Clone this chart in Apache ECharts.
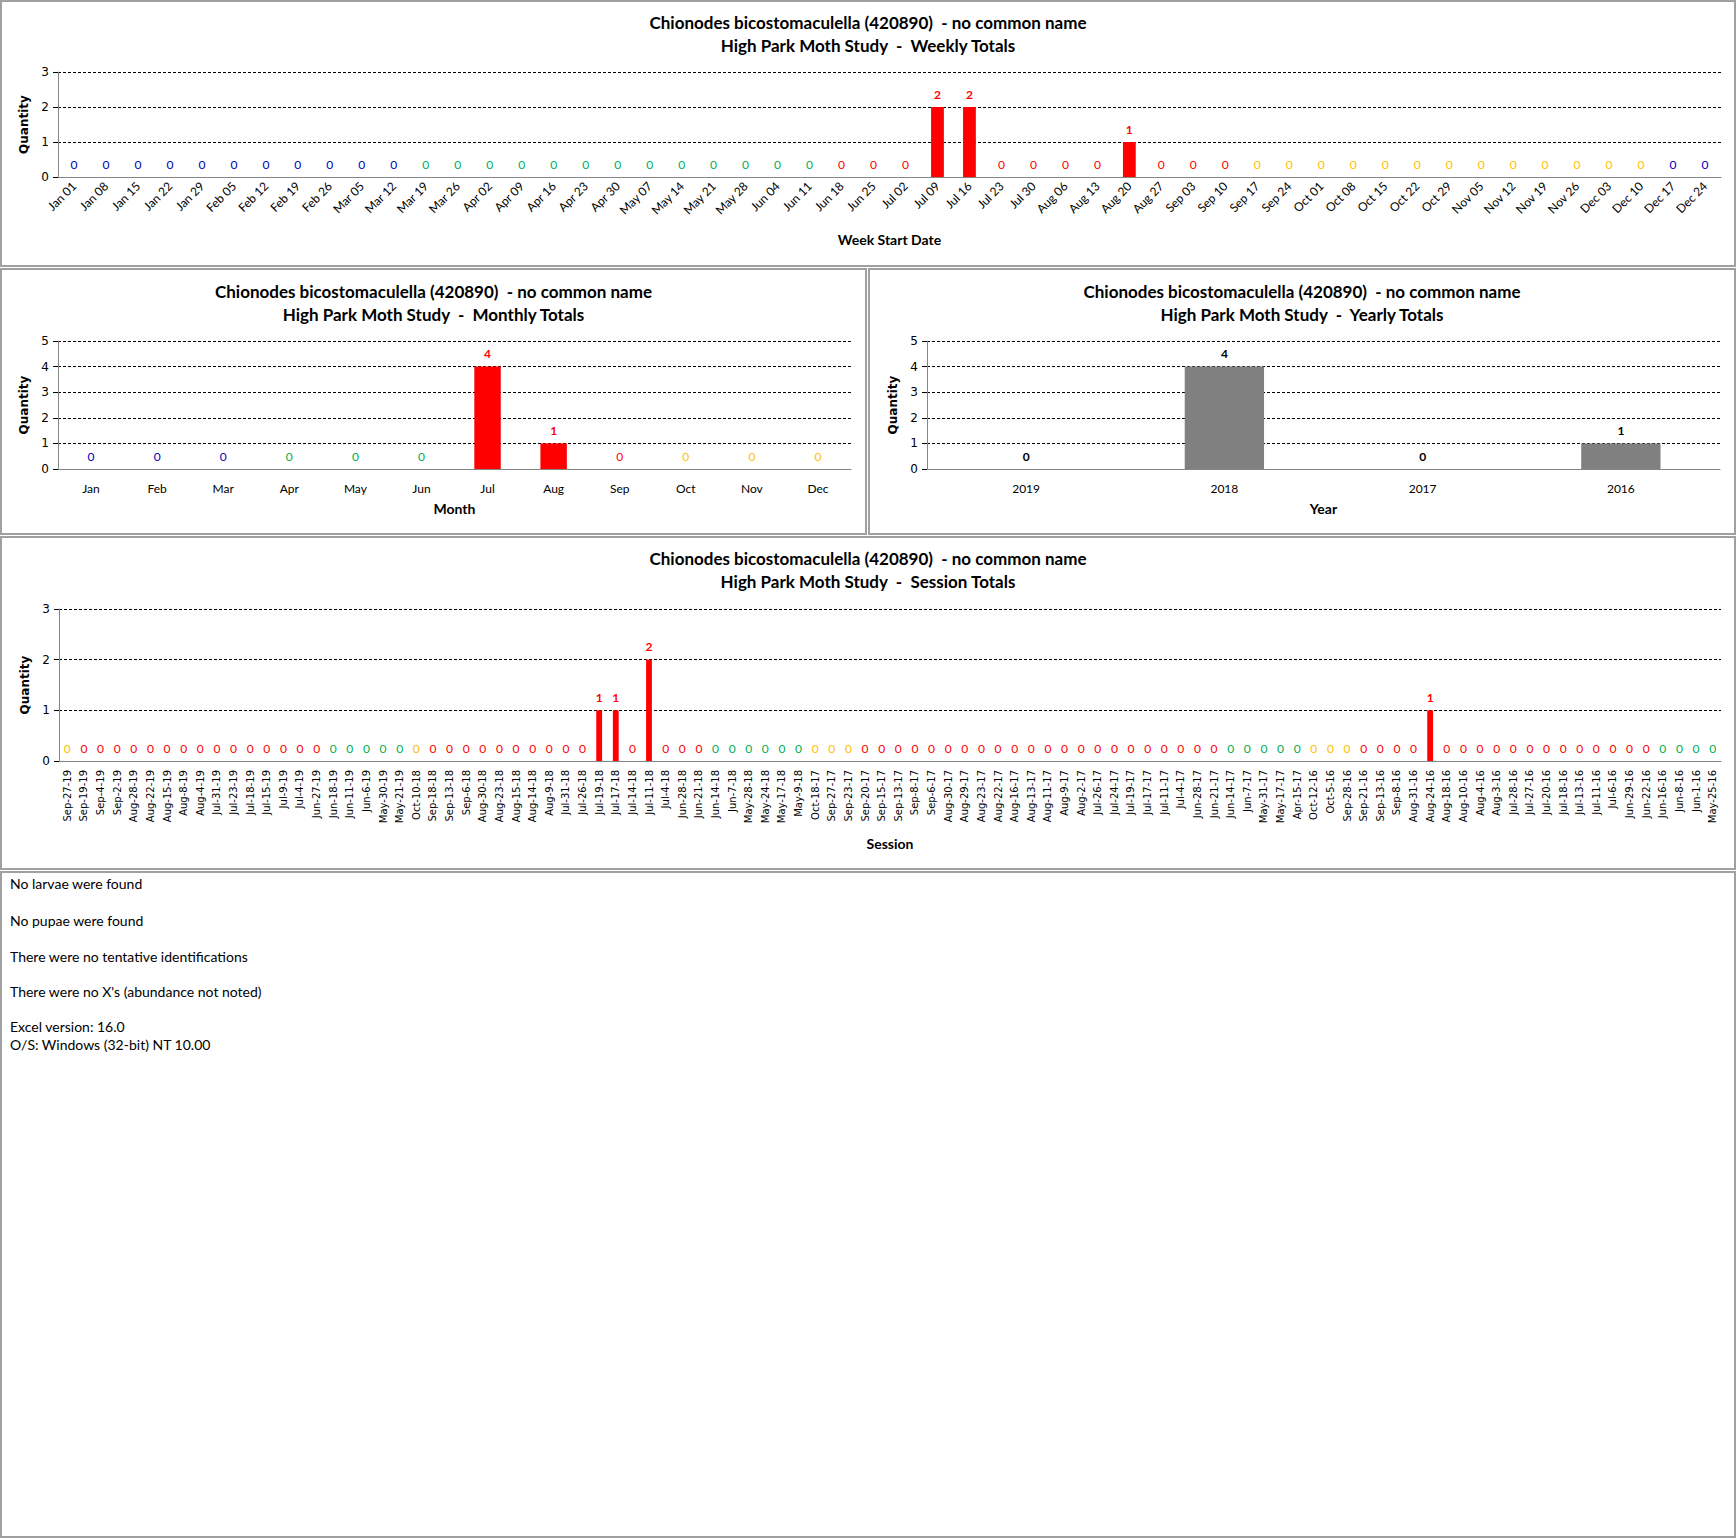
<!DOCTYPE html>
<html>
<head>
<meta charset="utf-8">
<title>Chionodes bicostomaculella - High Park Moth Study</title>
<script src="https://cdn.jsdelivr.net/npm/echarts@6/dist/echarts.min.js"></script>
<style>
    body { margin: 0; background: #fff; }
    #page { position: relative; width: 1736px; height: 1538px; }
    .panel { position: absolute; box-sizing: border-box; border: 2px solid #a0a0a0; background: #fff; }
    .chart { width: 100%; height: 100%; }
    .note { position: absolute; left: 8px; font-family: Lato, sans-serif; font-size: 14px; line-height: 18px; color: #000; white-space: nowrap; }
</style>
</head>
<body>
<div id="page">
    <div class="panel" style="left:0;top:0;width:1736px;height:267px;"><div id="weeklyChart" class="chart"></div></div>
    <div class="panel" style="left:0;top:268px;width:867px;height:267px;"><div id="monthlyChart" class="chart"></div></div>
    <div class="panel" style="left:868px;top:268px;width:868px;height:267px;"><div id="yearlyChart" class="chart"></div></div>
    <div class="panel" style="left:0;top:536px;width:1736px;height:334px;"><div id="sessionChart" class="chart"></div></div>
    <div class="panel" style="left:0;top:871px;width:1736px;height:667px;">
        <div class="note" style="top:2px;">No larvae were found</div>
        <div class="note" style="top:39px;">No pupae were found</div>
        <div class="note" style="top:75px;">There were no tentative identifications</div>
        <div class="note" style="top:110px;">There were no X's (abundance not noted)</div>
        <div class="note" style="top:145px;">Excel version: 16.0</div>
        <div class="note" style="top:163px;">O/S: Windows (32-bit) NT 10.00</div>
    </div>
</div>
<script>
var echartsAry = [];

var speciesTitle = 'Chionodes bicostomaculella (420890)  - no common name';

//周数据 weekly totals (week start date)
var weekLabels = ['Jan 01', 'Jan 08', 'Jan 15', 'Jan 22', 'Jan 29', 'Feb 05', 'Feb 12', 'Feb 19', 'Feb 26',
    'Mar 05', 'Mar 12', 'Mar 19', 'Mar 26', 'Apr 02', 'Apr 09', 'Apr 16', 'Apr 23', 'Apr 30',
    'May 07', 'May 14', 'May 21', 'May 28', 'Jun 04', 'Jun 11', 'Jun 18', 'Jun 25',
    'Jul 02', 'Jul 09', 'Jul 16', 'Jul 23', 'Jul 30', 'Aug 06', 'Aug 13', 'Aug 20', 'Aug 27',
    'Sep 03', 'Sep 10', 'Sep 17', 'Sep 24', 'Oct 01', 'Oct 08', 'Oct 15', 'Oct 22', 'Oct 29',
    'Nov 05', 'Nov 12', 'Nov 19', 'Nov 26', 'Dec 03', 'Dec 10', 'Dec 17', 'Dec 24'];
var weekCounts = [0, 0, 0, 0, 0, 0, 0, 0, 0,
    0, 0, 0, 0, 0, 0, 0, 0, 0,
    0, 0, 0, 0, 0, 0, 0, 0,
    0, 2, 2, 0, 0, 0, 0, 1, 0,
    0, 0, 0, 0, 0, 0, 0, 0, 0,
    0, 0, 0, 0, 0, 0, 0, 0];

//月数据 monthly totals
var monthLabels = ['Jan', 'Feb', 'Mar', 'Apr', 'May', 'Jun', 'Jul', 'Aug', 'Sep', 'Oct', 'Nov', 'Dec'];
var monthCounts = [0, 0, 0, 0, 0, 0, 4, 1, 0, 0, 0, 0];

//年数据 yearly totals
var yearLabels = ['2019', '2018', '2017', '2016'];
var yearCounts = [0, 4, 0, 1];

//每次采样 session totals
var sessionLabels = ['Sep-27-19', 'Sep-19-19', 'Sep-4-19', 'Sep-2-19', 'Aug-28-19', 'Aug-22-19', 'Aug-15-19', 'Aug-8-19', 'Aug-4-19', 'Jul-31-19',
    'Jul-23-19', 'Jul-18-19', 'Jul-15-19', 'Jul-9-19', 'Jul-4-19', 'Jun-27-19', 'Jun-18-19', 'Jun-11-19', 'Jun-6-19', 'May-30-19',
    'May-21-19', 'Oct-10-18', 'Sep-18-18', 'Sep-13-18', 'Sep-6-18', 'Aug-30-18', 'Aug-23-18', 'Aug-15-18', 'Aug-14-18', 'Aug-9-18',
    'Jul-31-18', 'Jul-26-18', 'Jul-19-18', 'Jul-17-18', 'Jul-14-18', 'Jul-11-18', 'Jul-4-18', 'Jun-28-18', 'Jun-21-18', 'Jun-14-18',
    'Jun-7-18', 'May-28-18', 'May-24-18', 'May-17-18', 'May-9-18', 'Oct-18-17', 'Sep-27-17', 'Sep-23-17', 'Sep-20-17', 'Sep-15-17',
    'Sep-13-17', 'Sep-8-17', 'Sep-6-17', 'Aug-30-17', 'Aug-29-17', 'Aug-23-17', 'Aug-22-17', 'Aug-16-17', 'Aug-13-17', 'Aug-11-17',
    'Aug-9-17', 'Aug-2-17', 'Jul-26-17', 'Jul-24-17', 'Jul-19-17', 'Jul-17-17', 'Jul-11-17', 'Jul-4-17', 'Jun-28-17', 'Jun-21-17',
    'Jun-14-17', 'Jun-7-17', 'May-31-17', 'May-17-17', 'Apr-15-17', 'Oct-12-16', 'Oct-5-16', 'Sep-28-16', 'Sep-21-16', 'Sep-13-16',
    'Sep-8-16', 'Aug-31-16', 'Aug-24-16', 'Aug-18-16', 'Aug-10-16', 'Aug-4-16', 'Aug-3-16', 'Jul-28-16', 'Jul-27-16', 'Jul-20-16',
    'Jul-18-16', 'Jul-13-16', 'Jul-11-16', 'Jul-6-16', 'Jun-29-16', 'Jun-22-16', 'Jun-16-16', 'Jun-8-16', 'Jun-1-16', 'May-25-16'];
var sessionCounts = [0, 0, 0, 0, 0, 0, 0, 0, 0, 0,
    0, 0, 0, 0, 0, 0, 0, 0, 0, 0,
    0, 0, 0, 0, 0, 0, 0, 0, 0, 0,
    0, 0, 1, 1, 0, 2, 0, 0, 0, 0,
    0, 0, 0, 0, 0, 0, 0, 0, 0, 0,
    0, 0, 0, 0, 0, 0, 0, 0, 0, 0,
    0, 0, 0, 0, 0, 0, 0, 0, 0, 0,
    0, 0, 0, 0, 0, 0, 0, 0, 0, 0,
    0, 0, 1, 0, 0, 0, 0, 0, 0, 0,
    0, 0, 0, 0, 0, 0, 0, 0, 0, 0];

var monthNames = ['Jan', 'Feb', 'Mar', 'Apr', 'May', 'Jun', 'Jul', 'Aug', 'Sep', 'Oct', 'Nov', 'Dec'];

//季节颜色: winter blue, spring green, summer red, fall yellow
function seasonColor(month, day) {
    var md = (month + 1) * 100 + day;
    if (md < 320 || md >= 1221) return '#0000C0';
    if (md < 621) return '#00B050';
    if (md < 922) return '#FF0000';
    return '#FFC000';
}

//周: colour by the last day of the week
function weekColor(label) {
    var parts = label.split(' ');
    var end = new Date(2018, monthNames.indexOf(parts[0]), parseInt(parts[1], 10) + 6);
    return seasonColor(end.getMonth(), end.getDate());
}

function sessionColor(label) {
    var parts = label.split('-');
    return seasonColor(monthNames.indexOf(parts[0]), parseInt(parts[1], 10));
}

function monthColor(label) {
    return seasonColor(monthNames.indexOf(label), 15);
}

//通用柱状图
//cfg: el, subtitle, categories, values, labelColor(fn), barColor, grid, yMax, xLabel, xName, xNameGap, barWidth, labelSize, boldZero
function drawBarChart(cfg) {
    var myChart = echarts.init(document.getElementById(cfg.el), null, { renderer: 'svg' });

    var seriesData = [];
    for (var i = 0; i < cfg.values.length; i++) {
        var v = cfg.values[i];
        seriesData.push({
            value: v,
            label: {
                color: cfg.labelColor(cfg.categories[i]),
                fontWeight: (v > 0 || cfg.boldZero) ? 'bold' : 'normal'
            }
        });
    }

    var titleStyle = {
        fontFamily: 'Lato',
        fontWeight: 'bold',
        fontSize: 17,
        lineHeight: 18,
        color: '#000'
    };

    var option = {
        animation: false,
        //两行标题, each line centred on its own
        title: [
            {
                text: speciesTitle,
                left: 'center',
                top: cfg.titleTop,
                padding: 0,
                textStyle: titleStyle
            },
            {
                text: cfg.subtitle,
                left: 'center',
                top: cfg.titleTop + 23,
                padding: 0,
                textStyle: titleStyle
            }
        ],
        grid: cfg.grid,
        xAxis: {
            type: 'category',
            data: cfg.categories,
            name: cfg.xName,
            nameLocation: 'middle',
            nameGap: cfg.xNameGap,
            nameTextStyle: {
                fontFamily: 'Lato',
                fontWeight: 'bold',
                fontSize: 14,
                color: '#000'
            },
            axisLine: { lineStyle: { color: '#868686', width: 1 } },
            axisTick: { length: 5, lineStyle: { color: '#868686' } },
            axisLabel: cfg.xLabel
        },
        yAxis: {
            type: 'value',
            min: 0,
            max: cfg.yMax,
            interval: 1,
            name: 'Quantity',
            nameLocation: 'middle',
            nameRotate: 90,
            nameGap: 23,
            nameTextStyle: {
                fontFamily: 'DejaVu Sans',
                fontWeight: 'bold',
                fontSize: 12,
                color: '#000'
            },
            axisLine: { show: true, lineStyle: { color: '#868686', width: 1 } },
            axisTick: { show: true, length: 5, lineStyle: { color: '#000' } },
            axisLabel: {
                fontFamily: 'DejaVu Sans',
                fontSize: 12,
                color: '#000',
                margin: 9
            },
            //虚线网格
            splitLine: { lineStyle: { color: '#000', type: [3, 2], width: 1 } }
        },
        series: [
            {
                type: 'bar',
                data: seriesData,
                barWidth: cfg.barWidth,
                itemStyle: { color: cfg.barColor },
                label: {
                    show: true,
                    position: 'top',
                    distance: 7,
                    fontFamily: 'Lato',
                    fontSize: cfg.labelSize
                }
            }
        ]
    };

    myChart.setOption(option);
    echartsAry.push(myChart);
}

//周统计
drawBarChart({
    el: 'weeklyChart',
    subtitle: 'High Park Moth Study  -  Weekly Totals',
    titleTop: 11,
    categories: weekLabels,
    values: weekCounts,
    labelColor: weekColor,
    barColor: '#FF0000',
    grid: { left: 56, top: 70, width: 1663, height: 105 },
    yMax: 3,
    xLabel: { interval: 0, rotate: 45, margin: 7, fontFamily: 'Lato', fontSize: 12, color: '#000' },
    xName: 'Week Start Date',
    xNameGap: 55,
    barWidth: '40%',
    labelSize: 12,
    boldZero: false
});

//月统计
drawBarChart({
    el: 'monthlyChart',
    subtitle: 'High Park Moth Study  -  Monthly Totals',
    titleTop: 12,
    categories: monthLabels,
    values: monthCounts,
    labelColor: monthColor,
    barColor: '#FF0000',
    grid: { left: 56, top: 71, width: 793, height: 128 },
    yMax: 5,
    xLabel: { interval: 0, margin: 13, fontFamily: 'Lato', fontSize: 12, color: '#000' },
    xName: 'Month',
    xNameGap: 32,
    barWidth: '40%',
    labelSize: 12,
    boldZero: false
});

//年统计
drawBarChart({
    el: 'yearlyChart',
    subtitle: 'High Park Moth Study  -  Yearly Totals',
    titleTop: 12,
    categories: yearLabels,
    values: yearCounts,
    labelColor: function () { return '#000'; },
    barColor: '#808080',
    grid: { left: 57, top: 71, width: 793, height: 128 },
    yMax: 5,
    xLabel: { interval: 0, margin: 13, fontFamily: 'Lato', fontSize: 12, color: '#000' },
    xName: 'Year',
    xNameGap: 32,
    barWidth: '40%',
    labelSize: 12,
    boldZero: true
});

//采样统计
drawBarChart({
    el: 'sessionChart',
    subtitle: 'High Park Moth Study  -  Session Totals',
    titleTop: 11,
    categories: sessionLabels,
    values: sessionCounts,
    labelColor: sessionColor,
    barColor: '#FF0000',
    grid: { left: 57, top: 71, width: 1662, height: 152 },
    yMax: 3,
    xLabel: { interval: 0, rotate: 90, margin: 9, fontFamily: 'DejaVu Sans', fontSize: 10, color: '#000' },
    xName: 'Session',
    xNameGap: 75,
    barWidth: '35%',
    labelSize: 12,
    boldZero: false
});

//统计图尺寸自适应
window.addEventListener("resize", function () {
    for (var i = 0; i < echartsAry.length; i++)
        echartsAry[i].resize();
});
</script>
</body>
</html>
